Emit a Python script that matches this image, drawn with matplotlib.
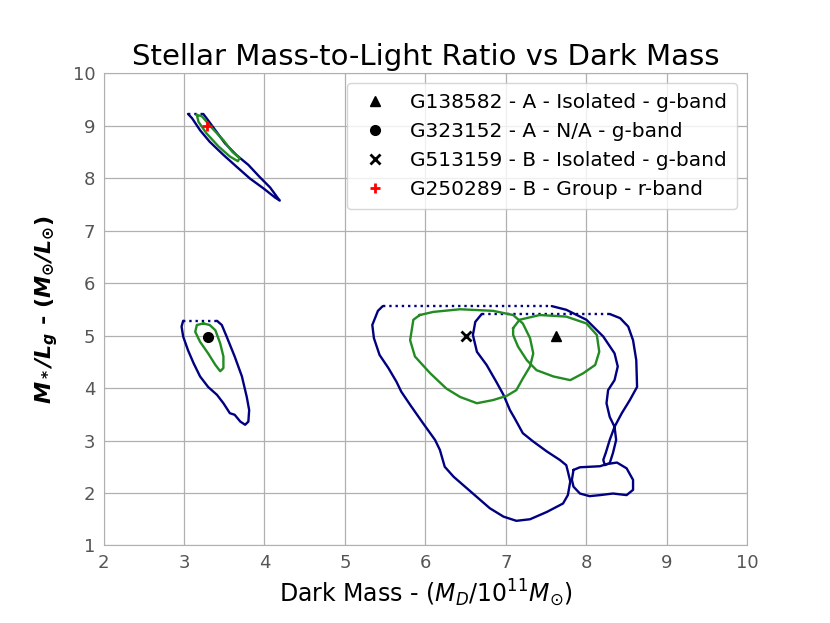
import matplotlib

matplotlib.use('Agg')
import matplotlib.pyplot as plt

# markers (dark mass [1e11 Msun], M*/L)
galaxy_names = ['G138582 - A - Isolated - g-band',
                'G323152 - A - N/A - g-band',
                'G513159 - B - Isolated - g-band',
                'G250289 - B - Group - r-band']
galaxy_x = [7.62, 3.30, 6.50, 3.28]
galaxy_y = [5.00, 4.98, 5.00, 9.00]
galaxy_markers = ['^', 'o', 'x', '+']
galaxy_colors = ['black', 'black', 'black', 'red']

# G513159 contours
g513_outer_x = [5.47, 5.41, 5.34, 5.36, 5.43, 5.54, 5.64, 5.70, 5.81, 5.97, 6.12,
                6.18, 6.24, 6.35, 6.59, 6.80, 6.97, 7.13, 7.30, 7.42, 7.51, 7.71,
                7.77, 7.80, 7.77, 7.75, 7.67, 7.51, 7.34, 7.21, 7.11, 7.05, 6.97,
                6.88, 6.76, 6.64, 6.59, 6.62, 6.70]
g513_outer_y = [5.56, 5.47, 5.20, 4.95, 4.63, 4.38, 4.12, 3.93, 3.68, 3.33, 3.01,
                2.82, 2.50, 2.31, 1.99, 1.71, 1.55, 1.47, 1.50, 1.58, 1.64, 1.80,
                1.96, 2.22, 2.41, 2.53, 2.63, 2.79, 2.98, 3.14, 3.42, 3.58, 3.87,
                4.12, 4.44, 4.69, 5.01, 5.26, 5.41]
g513_cut_x = [5.47, 7.57]
g513_cut_y = [5.56, 5.56]
g513_inner_x = [5.93, 5.85, 5.81, 5.87, 6.06, 6.26, 6.43, 6.64, 6.84, 7.01, 7.13,
                7.21, 7.30, 7.34, 7.30, 7.21, 7.09, 6.84, 6.43, 6.10, 5.93]
g513_inner_y = [5.39, 5.30, 4.91, 4.60, 4.28, 3.99, 3.83, 3.71, 3.77, 3.85, 3.96,
                4.18, 4.41, 4.66, 4.95, 5.23, 5.39, 5.47, 5.50, 5.45, 5.39]

# G138582 contours
g138_outer_x = [7.57, 7.75, 8.00, 8.21, 8.35, 8.39, 8.35, 8.27, 8.25, 8.29, 8.35,
                8.37, 8.33, 8.29, 8.23, 8.21, 8.24, 8.29, 8.35, 8.44, 8.54, 8.63,
                8.62, 8.58, 8.52, 8.42, 8.29]
g138_outer_y = [5.56, 5.49, 5.30, 4.98, 4.66, 4.41, 4.15, 3.96, 3.71, 3.45, 3.26,
                3.01, 2.76, 2.57, 2.53, 2.63, 2.76, 3.01, 3.26, 3.52, 3.77, 4.02,
                4.53, 4.91, 5.17, 5.33, 5.41]
g138_blob_x = [7.84, 7.92, 8.17, 8.25, 8.38, 8.50, 8.58, 8.58, 8.50, 8.33, 8.17,
               8.04, 7.92, 7.84, 7.82, 7.84]
g138_blob_y = [2.44, 2.49, 2.51, 2.55, 2.58, 2.47, 2.25, 2.06, 1.96, 1.99, 1.96,
               1.94, 1.99, 2.12, 2.25, 2.44]
g138_cut_x = [6.70, 8.29]
g138_cut_y = [5.41, 5.41]
g138_inner_x = [7.09, 7.17, 7.42, 7.75, 8.00, 8.13, 8.16, 8.11, 7.96, 7.80, 7.59,
                7.38, 7.26, 7.15, 7.09, 7.09]
g138_inner_y = [5.14, 5.30, 5.39, 5.36, 5.23, 5.01, 4.69, 4.44, 4.28, 4.15, 4.22,
                4.34, 4.53, 4.79, 5.01, 5.14]

# G323152 contours
g323_outer_x = [2.99, 2.97, 2.99, 3.05, 3.12, 3.20, 3.30, 3.41, 3.49, 3.57, 3.63,
                3.70, 3.76, 3.80, 3.81, 3.78, 3.72, 3.63, 3.53, 3.47, 3.41]
g323_outer_y = [5.28, 5.17, 4.98, 4.72, 4.47, 4.22, 4.02, 3.87, 3.71, 3.52, 3.49,
                3.36, 3.30, 3.36, 3.58, 3.83, 4.22, 4.60, 4.98, 5.20, 5.28]
g323_cut_x = [2.99, 3.41]
g323_cut_y = [5.28, 5.28]
g323_inner_x = [3.24, 3.32, 3.39, 3.45, 3.49, 3.49, 3.45, 3.39, 3.30, 3.20, 3.14,
                3.16, 3.24]
g323_inner_y = [5.23, 5.20, 5.10, 4.85, 4.60, 4.38, 4.32, 4.44, 4.66, 4.88, 5.07,
                5.20, 5.23]

# G250289 contours
g250_outer_x = [3.05, 3.10, 3.20, 3.32, 3.49, 3.65, 3.82, 3.99, 4.13, 4.19, 4.17,
                4.07, 3.94, 3.80, 3.65, 3.51, 3.39, 3.28, 3.24]
g250_outer_y = [9.22, 9.14, 8.91, 8.69, 8.44, 8.22, 7.99, 7.80, 7.63, 7.57, 7.61,
                7.82, 8.02, 8.25, 8.44, 8.66, 8.91, 9.14, 9.22]
g250_cut_x = [3.05, 3.24]
g250_cut_y = [9.22, 9.22]
g250_inner_x = [3.16, 3.18, 3.28, 3.43, 3.57, 3.67, 3.69, 3.60, 3.49, 3.35, 3.22,
                3.16]
g250_inner_y = [9.20, 9.07, 8.85, 8.60, 8.41, 8.32, 8.38, 8.50, 8.72, 8.95, 9.18,
                9.20]

outer_lines = [(g513_outer_x, g513_outer_y), (g138_outer_x, g138_outer_y),
               (g138_blob_x, g138_blob_y), (g323_outer_x, g323_outer_y),
               (g250_outer_x, g250_outer_y)]
cut_lines = [(g513_cut_x, g513_cut_y), (g138_cut_x, g138_cut_y),
             (g323_cut_x, g323_cut_y), (g250_cut_x, g250_cut_y)]
inner_lines = [(g513_inner_x, g513_inner_y), (g138_inner_x, g138_inner_y),
               (g323_inner_x, g323_inner_y), (g250_inner_x, g250_inner_y)]

fig = plt.figure(figsize=(8.3, 6.23), dpi=100)
ax = fig.add_axes([0.1247, 0.1244, 0.7757, 0.7584])

for xs, ys in outer_lines:
    ax.plot(xs, ys, color='navy', lw=1.7, solid_joinstyle='round',
            solid_capstyle='round')
for xs, ys in cut_lines:
    ax.plot(xs, ys, color='navy', lw=1.7, ls=':')
for xs, ys in inner_lines:
    ax.plot(xs, ys, color='forestgreen', lw=1.7, solid_joinstyle='round')

for name, x, y, m, c in zip(galaxy_names, galaxy_x, galaxy_y,
                            galaxy_markers, galaxy_colors):
    ax.plot(x, y, ls='none', marker=m, color=c, markersize=7,
            markeredgewidth=2 if m in 'x+' else 1, label=name)

ax.set_xlim(2, 10)
ax.set_ylim(1, 10)
ax.grid(True, color='#b0b0b0', lw=0.9)
ax.set_axisbelow(True)
for sp in ax.spines.values():
    sp.set_color('#b0b0b0')
ax.tick_params(length=0, labelsize=13, labelcolor='#555555', pad=6)

ax.set_title('Stellar Mass-to-Light Ratio vs Dark Mass', fontsize=21)
ax.set_xlabel(r'Dark Mass - ($M_D/10^{11}M_{\odot}$)', fontsize=17)
ax.set_ylabel(r'$\mathbfit{M_*/L_g}$ - ($\mathbfit{M_{\odot}/L_{\odot}}$)',
              fontsize=16, fontweight='bold', labelpad=9)

ax.legend(loc='upper right', fontsize=14.5, handlelength=1.8,
          handletextpad=0.85, borderpad=0.5, labelspacing=0.5)

fig.savefig('out.png', dpi=100)
